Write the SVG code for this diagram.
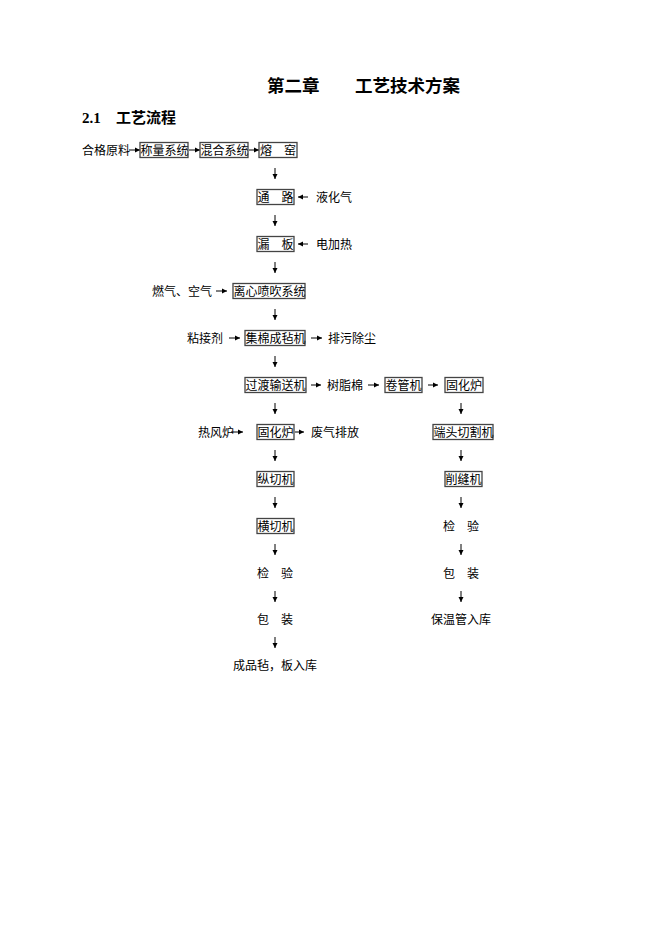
<svg xmlns="http://www.w3.org/2000/svg" width="662" height="936" viewBox="0 0 662 936">
<style>
text{font-family:"Noto Sans CJK SC","Liberation Sans",sans-serif;font-size:12px;fill:#000}
.title{font-size:17.5px;font-weight:bold}
.h2{font-size:15px;font-weight:bold}
.h2n{font-family:"Liberation Serif","Noto Sans CJK SC",serif;font-size:15px;font-weight:bold}
.box rect{fill:#fff;stroke:#444;stroke-width:1.3}
.con line{stroke:#000;stroke-width:1;marker-end:url(#ah)}
</style>
<defs>
<marker id="ah" markerUnits="userSpaceOnUse" markerWidth="6" markerHeight="6" refX="5" refY="3" orient="auto">
<path d="M0,0.5 L5,3 L0,5.5 Z" fill="#000"/>
</marker>
</defs>
<rect width="662" height="936" fill="#fff"/>
<g id="title">
<text class="title" x="267" y="92">第二章</text>
<text class="title" x="355" y="92">工艺技术方案</text>
</g>
<g id="heading">
<text class="h2n" x="82" y="123">2.1</text>
<text class="h2" x="116" y="123">工艺流程</text>
</g>
<g class="con" id="connectors">
<line x1="129" y1="150" x2="140" y2="150"/>
<line x1="189" y1="150" x2="200" y2="150"/>
<line x1="249" y1="150" x2="259" y2="150"/>
<line x1="275" y1="168" x2="275" y2="179"/>
<line x1="308" y1="197" x2="298" y2="197"/>
<line x1="275" y1="215" x2="275" y2="226"/>
<line x1="308" y1="244" x2="298" y2="244"/>
<line x1="275" y1="262" x2="275" y2="273"/>
<line x1="216" y1="291" x2="227" y2="291"/>
<line x1="275" y1="309" x2="275" y2="320"/>
<line x1="229" y1="338" x2="240" y2="338"/>
<line x1="311" y1="338" x2="322" y2="338"/>
<line x1="275" y1="356" x2="275" y2="367"/>
<line x1="311" y1="385" x2="321" y2="385"/>
<line x1="368" y1="385" x2="379" y2="385"/>
<line x1="428" y1="385" x2="438" y2="385"/>
<line x1="275" y1="403" x2="275" y2="414"/>
<line x1="461" y1="403" x2="461" y2="414"/>
<line x1="231" y1="432" x2="243" y2="432"/>
<line x1="295" y1="432" x2="304" y2="432"/>
<line x1="275" y1="450" x2="275" y2="461"/>
<line x1="461" y1="450" x2="461" y2="461"/>
<line x1="275" y1="497" x2="275" y2="508"/>
<line x1="461" y1="497" x2="461" y2="508"/>
<line x1="275" y1="544" x2="275" y2="555"/>
<line x1="461" y1="544" x2="461" y2="555"/>
<line x1="275" y1="591" x2="275" y2="602"/>
<line x1="461" y1="591" x2="461" y2="602"/>
<line x1="275" y1="637" x2="275" y2="648"/>
</g>
<g id="n-raw"><text x="82" y="154.5">合格原料</text></g>
<g id="n-weigh" class="box"><rect x="140" y="142.5" width="48" height="15"/><text x="140.5" y="154.5">称量系统</text></g>
<g id="n-mix" class="box"><rect x="200" y="142.5" width="48" height="15"/><text x="200.5" y="154.5">混合系统</text></g>
<g id="n-kiln" class="box"><rect x="259" y="142.5" width="38" height="15"/><text x="260" y="154.5">熔　窑</text></g>
<g id="n-channel" class="box"><rect x="257" y="189.5" width="37" height="15"/><text x="257.5" y="201.5">通　路</text></g>
<g id="n-lpg"><text x="316" y="201.5">液化气</text></g>
<g id="n-bushing" class="box"><rect x="257" y="236.5" width="37" height="15"/><text x="257.5" y="248.5">漏　板</text></g>
<g id="n-heat"><text x="316" y="248.5">电加热</text></g>
<g id="n-gas"><text x="152" y="295.5">燃气、空气</text></g>
<g id="n-spin" class="box"><rect x="233" y="283.5" width="72" height="15"/><text x="233.5" y="295.5">离心喷吹系统</text></g>
<g id="n-binder"><text x="187" y="342.5">粘接剂</text></g>
<g id="n-collect" class="box"><rect x="245" y="330.5" width="60" height="15"/><text x="245.5" y="342.5">集棉成毡机</text></g>
<g id="n-dust"><text x="328" y="342.5">排污除尘</text></g>
<g id="n-transfer" class="box"><rect x="245" y="377.5" width="61" height="15"/><text x="245.5" y="389.5">过渡输送机</text></g>
<g id="n-resin"><text x="327" y="389.5">树脂棉</text></g>
<g id="n-roll" class="box"><rect x="385" y="377.5" width="37" height="15"/><text x="385.5" y="389.5">卷管机</text></g>
<g id="n-cure2" class="box"><rect x="445" y="377.5" width="38" height="15"/><text x="446" y="389.5">固化炉</text></g>
<g id="n-hotair"><text x="198" y="436.5">热风炉</text></g>
<g id="n-cure1" class="box"><rect x="257" y="424.5" width="37" height="15"/><text x="257.5" y="436.5">固化炉</text></g>
<g id="n-exhaust"><text x="311" y="436.5">废气排放</text></g>
<g id="n-endcut" class="box"><rect x="433" y="424.5" width="60" height="15"/><text x="433.5" y="436.5">端头切割机</text></g>
<g id="n-slit" class="box"><rect x="257" y="471.5" width="37" height="15"/><text x="257.5" y="483.5">纵切机</text></g>
<g id="n-groove" class="box"><rect x="445" y="471.5" width="37" height="15"/><text x="445.5" y="483.5">削缝机</text></g>
<g id="n-cross" class="box"><rect x="257" y="518.5" width="37" height="15"/><text x="257.5" y="530.5">横切机</text></g>
<g id="n-inspect2"><text x="443" y="530.5">检　验</text></g>
<g id="n-inspect1"><text x="257" y="577.5">检　验</text></g>
<g id="n-pack2"><text x="443" y="577.5">包　装</text></g>
<g id="n-pack1"><text x="257" y="623.5">包　装</text></g>
<g id="n-pipe"><text x="431" y="623.5">保温管入库</text></g>
<g id="n-product"><text x="233" y="669.5">成品毡，板入库</text></g>
</svg>
